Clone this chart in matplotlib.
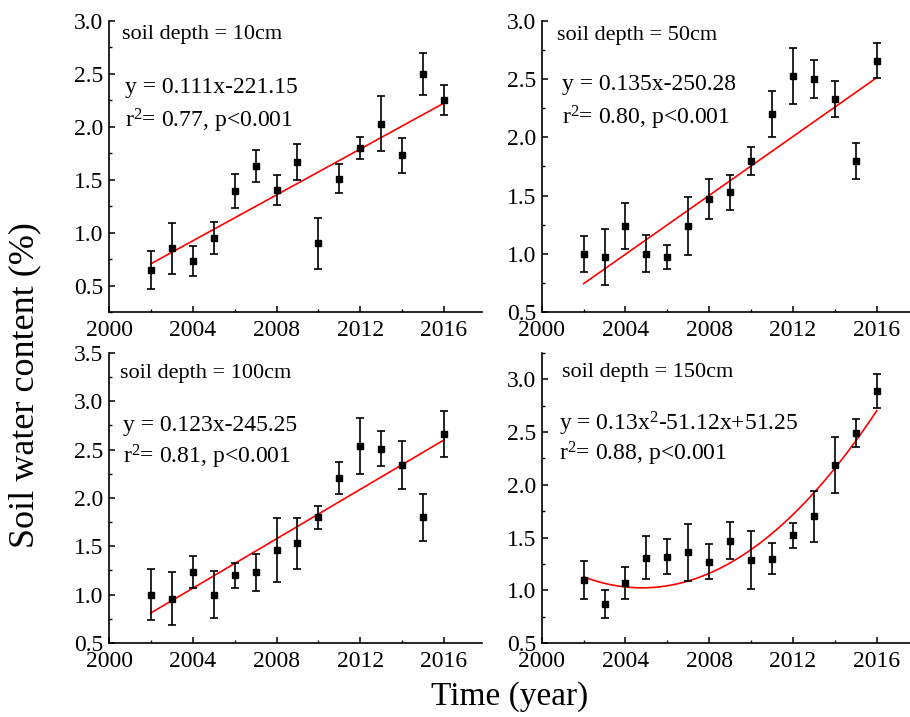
import numpy as np
import matplotlib
matplotlib.use("Agg")
import matplotlib.pyplot as plt
from matplotlib.ticker import MultipleLocator

plt.rcParams['font.family'] = ['Liberation Serif', 'DejaVu Serif']
plt.rcParams['mathtext.fontset'] = 'custom'
plt.rcParams['mathtext.rm'] = 'Liberation Serif'
plt.rcParams['mathtext.default'] = 'regular'

#%%
# data
years = np.arange(2002, 2017)

swc_10 = [0.65, 0.85, 0.73, 0.95, 1.39, 1.63, 1.40, 1.67, 0.90, 1.51, 1.80, 2.03, 1.73, 2.50, 2.25]
err_10 = [0.18, 0.24, 0.14, 0.15, 0.16, 0.15, 0.14, 0.17, 0.24, 0.14, 0.10, 0.26, 0.165, 0.20, 0.14]

swc_50 = [1.00, 0.97, 1.24, 1.00, 0.97, 1.24, 1.47, 1.53, 1.80, 2.20, 2.53, 2.50, 2.33, 1.80, 2.66]
err_50 = [0.155, 0.24, 0.20, 0.16, 0.105, 0.25, 0.17, 0.15, 0.12, 0.20, 0.24, 0.165, 0.155, 0.155, 0.15]

swc_100 = [1.00, 0.96, 1.23, 1.00, 1.20, 1.23, 1.46, 1.53, 1.80, 2.21, 2.54, 2.51, 2.34, 1.80, 2.66]
err_100 = [0.265, 0.275, 0.165, 0.245, 0.13, 0.195, 0.33, 0.265, 0.12, 0.165, 0.29, 0.18, 0.245, 0.24, 0.24]

swc_150 = [1.10, 0.87, 1.07, 1.31, 1.32, 1.36, 1.27, 1.47, 1.29, 1.30, 1.52, 1.70, 2.19, 2.49, 2.89]
err_150 = [0.18, 0.13, 0.15, 0.20, 0.165, 0.27, 0.165, 0.175, 0.275, 0.15, 0.12, 0.24, 0.265, 0.13, 0.165]

# fitted curves as drawn in the figure (values at 2002, 2009, 2016)
fit_x = [2002, 2009, 2016]
fit_10 = [0.705, 1.465, 2.224]
fit_50 = [0.743, 1.628, 2.513]
fit_100 = [0.811, 1.706, 2.601]
fit_150 = [1.127, 1.260, 2.703]

labels = ["soil depth = 10cm", "soil depth = 50cm", "soil depth = 100cm", "soil depth = 150cm"]
eqs = ["y = 0.111x-221.15", "y = 0.135x-250.28", "y = 0.123x-245.25",
       "y = 0.13x$^{2}$-51.12x+51.25"]
r2s = ["r$^{2}$= 0.77, p<0.001", "r$^{2}$= 0.80, p<0.001", "r$^{2}$= 0.81, p<0.001",
       "r$^{2}$= 0.88, p<0.001"]

#%%
fig = plt.figure(figsize=(9.1, 7.17), dpi=100)

w = 0.4096
boxes = [[0.1198, 0.5649, w, 0.4059], [0.5953, 0.5649, w, 0.4059],
         [0.1198, 0.1032, w, 0.4045], [0.5953, 0.1032, w, 0.4045]]
ylims = [(0.25, 3.0), (0.5, 3.0), (0.5, 3.5), (0.5, 3.25)]
swcs = [swc_10, swc_50, swc_100, swc_150]
errs = [err_10, err_50, err_100, err_150]
fits = [fit_10, fit_50, fit_100, fit_150]
degs = [1, 1, 1, 2]
lab_pos = [(0.034, 0.952), (0.040, 0.949), (0.030, 0.928), (0.054, 0.934)]
eq_pos = [(0.043, 0.770), (0.054, 0.780), (0.037, 0.750), (0.046, 0.754)]
r2_pos = [(0.043, 0.657), (0.054, 0.667), (0.037, 0.640), (0.046, 0.651)]

for i in range(4):
    ax = fig.add_axes(boxes[i])
    ax.errorbar(years, swcs[i], yerr=errs[i], fmt='s', color='black', ms=5,
                elinewidth=1.2, capsize=3, capthick=1.2, zorder=3)
    coef = np.polyfit(fit_x, fits[i], degs[i])
    xx = np.linspace(2002, 2016, 200)
    ax.plot(xx, np.polyval(coef, xx), color='red', lw=1.2, zorder=2)

    ax.set_xlim(2000, 2017.8)
    ax.set_ylim(*ylims[i])
    ax.xaxis.set_major_locator(MultipleLocator(4))
    ax.xaxis.set_minor_locator(MultipleLocator(2))
    ax.yaxis.set_major_locator(MultipleLocator(0.5))
    ax.yaxis.set_minor_locator(MultipleLocator(0.25))
    ax.spines['top'].set_visible(False)
    ax.spines['right'].set_visible(False)
    for s in ['left', 'bottom']:
        ax.spines[s].set_linewidth(1.2)
    ax.tick_params(which='major', direction='in', length=4, width=1.1, labelsize=17, pad=4)
    ax.tick_params(axis='x', which='major', pad=6)
    ax.tick_params(which='minor', direction='in', length=2.5, width=1.0)
    ax.yaxis.set_major_formatter(matplotlib.ticker.FormatStrFormatter('%.1f'))

    ax.text(lab_pos[i][0], lab_pos[i][1], labels[i], transform=ax.transAxes,
            fontsize=16, va='center', ha='left')
    ax.text(eq_pos[i][0], eq_pos[i][1], eqs[i], transform=ax.transAxes,
            fontsize=17, va='center', ha='left')
    ax.text(r2_pos[i][0], r2_pos[i][1], r2s[i], transform=ax.transAxes,
            fontsize=17, va='center', ha='left')

fig.text(0.027, 0.463, "Soil water content (%)", rotation=90, fontsize=26,
         va='center', ha='center')
fig.text(0.56, 0.029, "Time (year)", fontsize=24, va='center', ha='center')

fig.savefig("out.png", dpi=100)
